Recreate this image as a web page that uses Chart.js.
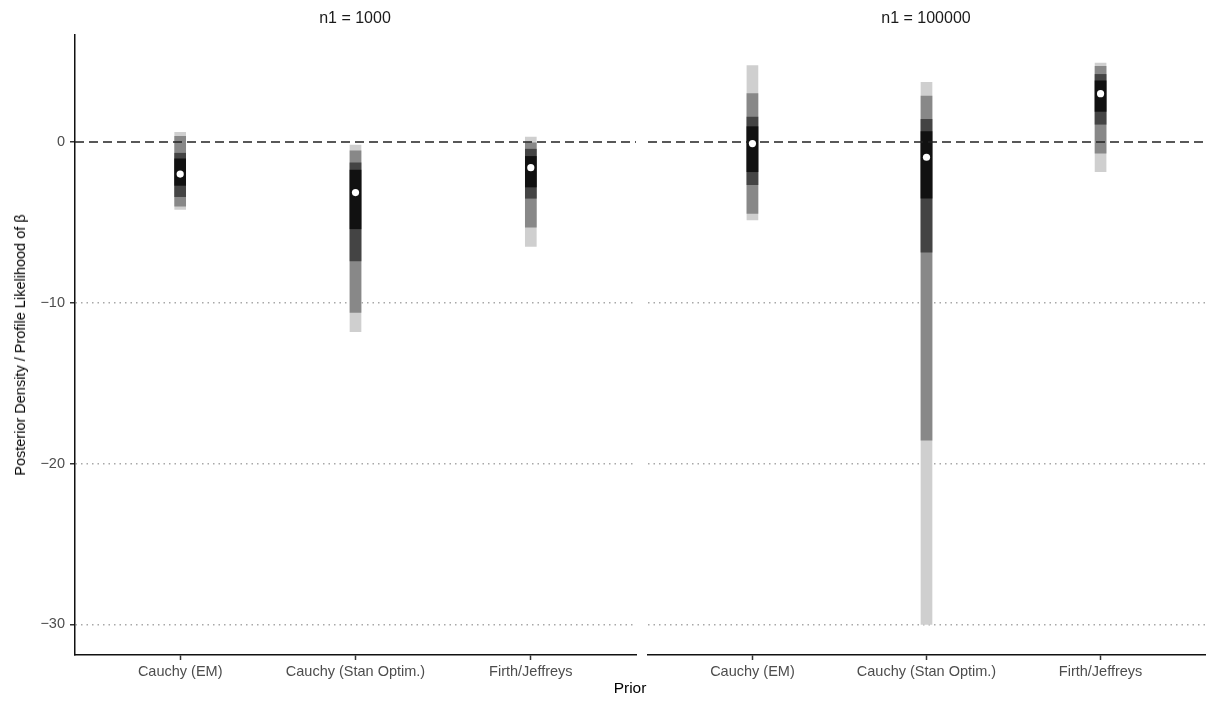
<!DOCTYPE html>
<html>
<head>
<meta charset="utf-8">
<script src="https://cdn.jsdelivr.net/npm/chart.js@4.4.1/dist/chart.umd.min.js"></script>
<style>
  body { margin: 0; background: #fff; width: 1216px; height: 711px; position: relative; overflow: hidden;
         font-family: "Liberation Sans", Arial, sans-serif; }
  canvas { position: absolute; top: 0; }
  #left { left: 0; }
  #right { left: 644px; }
  .strip { position: absolute; top: 9px; font-size: 16px; color: #1a1a1a; transform: translateX(-50%); white-space: nowrap; }
  #xtitle { position: absolute; top: 679px; left: 630px; font-size: 15.5px; color: #000; transform: translateX(-50%); }
  #ytitle { position: absolute; left: 20px; top: 345px; font-size: 14.5px; color: #000; white-space: nowrap;
            transform: translate(-50%, -50%) rotate(-90deg); }
</style>
</head>
<body>
<canvas id="left" width="640" height="711"></canvas>
<canvas id="right" width="572" height="711"></canvas>
<div class="strip" style="left:355px">n1 = 1000</div>
<div class="strip" style="left:926px">n1 = 100000</div>
<div id="xtitle">Prior</div>
<div id="ytitle">Posterior Density / Profile Likelihood of β</div>
<script>
const categories = ["Cauchy (EM)", "Cauchy (Stan Optim.)", "Firth/Jeffreys"];
const yTicks = [-30, -20, -10, 0];
const yMin = -31.9, yMax = 6.65;

// n1 = 1000 : [low, high] for each interval band, widest first
const light1000 = [[-4.2, 0.6], [-11.8, -0.2], [-6.5, 0.3]];
const gray1000  = [[-4.0, 0.35], [-10.6, -0.55], [-5.3, -0.05]];
const dark1000  = [[-3.4, -0.7], [-7.4, -1.3], [-3.5, -0.45]];
const black1000 = [[-2.7, -1.05], [-5.4, -1.75], [-2.8, -0.9]];
const point1000 = [-2.0, -3.15, -1.6];

// n1 = 100000
const light100k = [[-4.85, 4.75], [-30.0, 3.7], [-1.85, 4.9]];
const gray100k  = [[-4.45, 3.0], [-18.55, 2.85], [-0.7, 4.7]];
const dark100k  = [[-2.65, 1.55], [-6.85, 1.4], [1.1, 4.2]];
const black100k = [[-1.85, 0.95], [-3.5, 0.65], [1.9, 3.8]];
const point100k = [-0.1, -0.95, 3.0];

const FONT = "'Liberation Sans', Arial, sans-serif";

// dashed reference line at 0, drawn over the bars but under the points
const zeroLine = {
  id: "zeroLine",
  afterDatasetDraw(chart, args) {
    if (args.index !== 1) return;
    const ctx = chart.ctx;
    const y = chart.scales.y.getPixelForValue(0);
    const { left, right } = chart.chartArea;
    ctx.save();
    ctx.setLineDash([9, 5]);
    ctx.strokeStyle = "#222";
    ctx.lineWidth = 1.6;
    ctx.beginPath();
    ctx.moveTo(left, y);
    ctx.lineTo(right, y);
    ctx.stroke();
    ctx.restore();
  }
};

function band(vals, color) {
  return {
    type: "bar",
    data: vals.map((v, i) => ({ x: i + 1, y: v })),
    backgroundColor: color,
    borderWidth: 0,
    barThickness: 11,
    grouped: false
  };
}

function makePanel(id, light, gray, dark, black, points, showY, padding) {
  new Chart(document.getElementById(id), {
    type: "bar",
    data: {
      datasets: [
        {
          type: "line",
          data: points.map((v, i) => ({ x: i + 1, y: v })),
          showLine: false,
          pointRadius: 3.6,
          pointBackgroundColor: "#fff",
          pointBorderWidth: 0
        },
        band(black, "#111111"),
        band(dark, "#444444"),
        band(gray, "#888888"),
        band(light, "#cfcfcf")
      ]
    },
    options: {
      responsive: false,
      animation: false,
      layout: { padding },
      plugins: { legend: { display: false }, tooltip: { enabled: false } },
      scales: {
        x: {
          type: "linear",
          min: 0.4,
          max: 3.6,
          offset: false,
          afterBuildTicks: s => { s.ticks = categories.map((c, i) => ({ value: i + 1 })); },
          afterFit: s => { s.height = 56; },
          grid: { offset: false, drawOnChartArea: false, drawTicks: true, tickLength: 5, tickColor: "#333", tickWidth: 1.5 },
          border: { display: true, color: "#111", width: 1.5 },
          ticks: {
            callback: (v, i) => categories[i],
            color: "#4d4d4d",
            font: { size: 14.5, family: FONT },
            padding: 3,
            maxRotation: 0,
            autoSkip: false
          }
        },
        y: {
          min: yMin,
          max: yMax,
          afterBuildTicks: s => { s.ticks = yTicks.map(v => ({ value: v })); },
          afterFit: s => { s.width = showY ? 75 : 0; },
          grid: {
            color: c => (c.tick && c.tick.value === 0) ? "rgba(0,0,0,0)" : "#a8a8a8",
            lineWidth: 1.5,
            drawTicks: showY,
            tickLength: 5,
            tickColor: "#333",
            tickWidth: 1.5,
            tickBorderDash: []
          },
          border: { display: showY, color: "#111", width: 1.5, dash: [1.5, 4] },
          ticks: {
            display: showY,
            color: "#4d4d4d",
            font: { size: 14.5, family: FONT },
            padding: 5,
            callback: v => String(v).replace("-", "\u2212")
          }
        }
      }
    },
    plugins: [zeroLine]
  });
}

makePanel("left", light1000, gray1000, dark1000, black1000, point1000, true,
  { top: 35, right: 4, left: 0, bottom: 0 });
makePanel("right", light100k, gray100k, dark100k, black100k, point100k, false,
  { top: 35, right: 11, left: 3, bottom: 0 });
</script>
</body>
</html>
